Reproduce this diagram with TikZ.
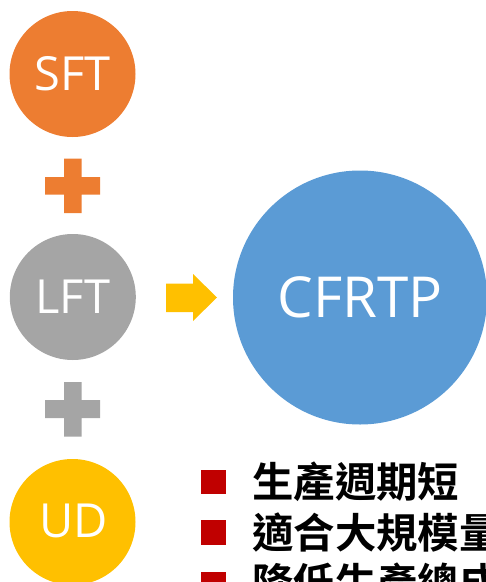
\documentclass[tikz,border=0pt]{standalone}
\usepackage{fontspec}
\setmainfont{Open Sans}
\newfontfamily\cjk{Noto Sans CJK TC Bold}
\definecolor{cOrange}{HTML}{ED7D31}
\definecolor{cGray}{HTML}{A5A5A5}
\definecolor{cGold}{HTML}{FFC000}
\definecolor{cBlue}{HTML}{5B9BD5}
\definecolor{cRed}{HTML}{C00000}
\tikzset{
  disc/.style={circle,fill=#1,text=white,inner sep=0pt,minimum size=126pt,font=\fontsize{47}{47}\selectfont},
  bignode/.style={circle,fill=cBlue,text=white,inner sep=0pt,minimum size=254pt,font=\fontsize{56.5}{56.5}\selectfont},
  bullet/.style={fill=cRed,draw=none,inner sep=0pt,minimum size=24.5pt,rectangle},
  line/.style={anchor=west,inner sep=0pt,font=\cjk\fontsize{41.4}{41.4}\selectfont,text=black},
  plusshape/.style={fill=#1,draw=none}
}
\begin{document}
\begin{tikzpicture}[x=1pt,y=-1pt]
\useasboundingbox (0,0) rectangle (486,582);
\clip (0,0) rectangle (486,582);
\node[disc=cOrange] (sft) at (72.5,74) {\raisebox{1.5pt}{SFT}};
\node[disc=cGray] (lft) at (72.8,297) {\raisebox{1.5pt}{LFT}};
\node[disc=cGold] (ud) at (72.5,522) {\hspace{2pt}\raisebox{2.5pt}{UD}};
\node[bignode] (cfrtp) at (360,297.5) {\raisebox{1.5pt}{CFRTP}};
\fill[plusshape=cOrange] (64,158.5)--(81.5,158.5)--(81.5,177)--(100,177)--(100,194.5)--(81.5,194.5)--(81.5,213)--(64,213)--(64,194.5)--(45,194.5)--(45,177)--(64,177)--cycle;
\fill[plusshape=cGray] (64,382)--(81.5,382)--(81.5,400)--(100,400)--(100,418)--(81.5,418)--(81.5,436.5)--(64,436.5)--(64,418)--(45,418)--(45,400)--(64,400)--cycle;
\fill[cGold] (166,283.5)--(193,283.5)--(193,274)--(217,297.5)--(193,321)--(193,312)--(166,312)--cycle;
\node[bullet] (b1) at (213.7,482) {};
\node[bullet] (b2) at (213.7,532.3) {};
\node[bullet] (b3) at (213.7,584) {};
\node[line] (t1) at (252,482) {生產週期短};
\node[line] (t2) at (252,532) {適合大規模量};
\node[line] (t3) at (252,583) {降低生產總成};
\end{tikzpicture}
\end{document}
